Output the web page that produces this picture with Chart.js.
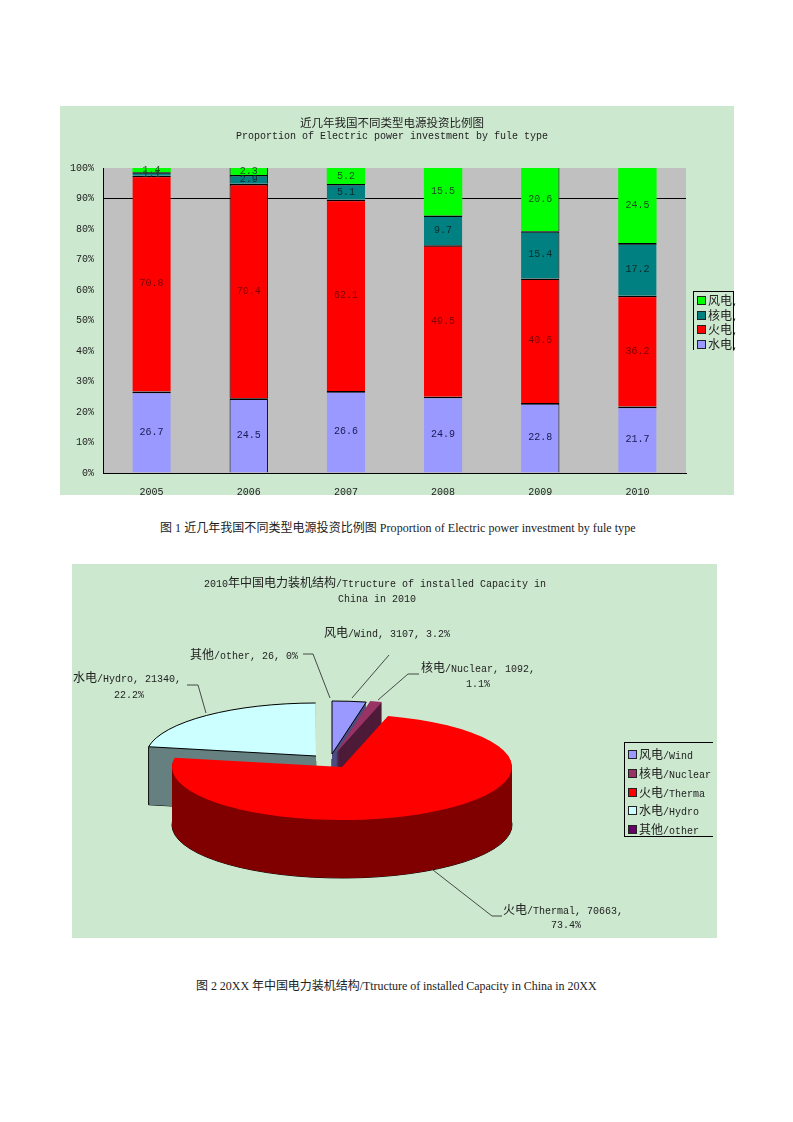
<!DOCTYPE html>
<html>
<head>
<meta charset="utf-8">
<title>电力投资与装机结构</title>
<script src="https://cdn.jsdelivr.net/npm/chart.js@4"></script>
<style>
html,body{margin:0;padding:0;background:#fff}
#page{position:relative;width:793px;height:1122px;overflow:hidden}
canvas{position:absolute;background:#CCE8CF}
.txt{position:absolute;white-space:nowrap;font:10px "Liberation Mono",monospace;color:#222;transform:translateY(-50%);line-height:14px}
.txt.mid{transform:translate(-50%,-50%)}
.txt .zh{font:12px "Noto Sans CJK SC",sans-serif}
.cap{position:absolute;white-space:nowrap;font:12px "Liberation Serif",serif;color:#222;transform:translateY(-50%);line-height:16px}
.cap .zh{font:12px "Noto Sans CJK SC",sans-serif}
.box{position:absolute;border:1px solid #000}
.swatch{position:absolute;width:7px;height:7px;border:1px solid #222}
</style>
</head>
<body>
<div id="page">
<canvas id="barChart" width="674" height="389" style="left:60px;top:106px"></canvas>
<canvas id="pieChart" width="645" height="374" style="left:72px;top:564px"></canvas>
</div>

<script>
/* BAR CHART DATA */

const years=["2005","2006","2007","2008","2009","2010"]
const hydro=[26.7,24.5,26.6,24.9,22.8,21.7]
const thermal=[70.8,70.4,62.1,49.5,40.6,36.2]
const nuclear=[1.1,2.9,5.1,9.7,15.4,17.2]
const wind=[1.4,2.3,5.2,15.5,20.6,24.5]
const percentTicks=[0,10,20,30,40,50,60,70,80,90,100]
const barNames=["水电","火电","核电","风电"]
const barColors=["#9999FF","#FF0000","#008080","#00FF00"]
const barLabelColors=["#1a1a50","#7a0000","#0b2b2b","#1d4d1d"]

/* PIE CHART DATA */

const sliceNames=["风电/Wind","核电/Nuclear","火电/Thermal","水电/Hydro","其他/other"]
const sliceValues=[3107,1092,70663,21340,26]
const slicePercents=["3.2","1.1","73.4","22.2","0"]
const legendNames=["风电/Wind","核电/Nuclear","火电/Therma","水电/Hydro","其他/other"]
const sliceColors=["#9999FF","#993366","#FF0000","#CCFFFF","#660066"]
const sliceSides=["#4d4d80","#4d1a38","#800000","#668080","#330033"]


/* TEXT HELPERS */

const page=document.getElementById("page")

function wrapZh(s){
return s.replace(/[\u4e00-\u9fff]+/g,m=>`<span class="zh">${m}</span>`)
}

function addText(s,x,y,mid,size){
let d=document.createElement("div")
d.className="txt"+(mid?" mid":"")
d.style.left=x+"px"
d.style.top=y+"px"
d.innerHTML=wrapZh(s)
if(size) d.querySelectorAll(".zh").forEach(z=>z.style.fontSize=size+"px")
page.appendChild(d)
}

function addCaption(s,x,y,spacing){
let d=document.createElement("div")
d.className="cap"
d.style.left=x+"px"
d.style.top=y+"px"
d.style.letterSpacing=spacing+"px"
d.innerHTML=wrapZh(s)
page.appendChild(d)
}

function addLegend(x,y,w,h,names,colors,rows,sides){
let b=document.createElement("div")
b.className="box"
b.style.cssText=`left:${x}px;top:${y}px;width:${w}px;height:${h}px;`+sides
page.appendChild(b)
names.forEach((n,i)=>{
let s=document.createElement("div")
s.className="swatch"
s.style.left=(x+4)+"px"
s.style.top=(rows[i]-4)+"px"
s.style.background=colors[i]
page.appendChild(s)
addText(n,x+15,rows[i])
})
}


/* BAR CHART */

const barRaw=[hydro,thermal,nuclear,wind]

/* the original is a 100% stacked column, so heights are shares of each year's total */
function shareOf(series){
return series.map((v,i)=>v/barRaw.reduce((a,s)=>a+s[i],0)*100)
}

const plotBackground={
id:"plotBackground",
beforeDraw(chart){
let a=chart.chartArea
chart.ctx.fillStyle="#C0C0C0"
chart.ctx.fillRect(a.left,a.top,a.width,a.height)
}
}

const barValues={
id:"barValues",
afterDatasetsDraw(chart){
let ctx=chart.ctx
ctx.save()
ctx.font='10px "Liberation Mono",monospace'
ctx.textAlign="center"
ctx.textBaseline="middle"
chart.data.datasets.forEach((ds,k)=>{
chart.getDatasetMeta(k).data.forEach((el,i)=>{
ctx.fillStyle=barLabelColors[k]
ctx.fillText(barRaw[k][i].toFixed(1),el.x,(el.y+el.base)/2)
})
})
ctx.restore()
}
}

new Chart(document.getElementById("barChart"),{
type:"bar",
data:{
labels:years,
datasets:barRaw.map((s,k)=>({
label:barNames[k],
data:shareOf(s),
backgroundColor:barColors[k],
borderColor:"#000",
borderSkipped:false,
borderWidth:c=>{
let top=k==3?0:1.6
if(c.dataIndex==1) return {top:top,left:1,right:1,bottom:0}
if(c.dataIndex==4) return {top:top,left:0,right:1,bottom:0}
return {top:top,left:0,right:0,bottom:0}
}
}))
},
options:{
responsive:false,
animation:false,
layout:{padding:{top:62,right:48,left:0,bottom:0}},
plugins:{legend:{display:false},title:{display:false},tooltip:{enabled:false}},
datasets:{bar:{barPercentage:0.395,categoryPercentage:1}},
scales:{
x:{
stacked:true,
afterFit(s){s.height=22},
grid:{display:false},
border:{color:"#000",width:1},
/* tick marks stay counted in the label offset although the grid is off, so the padding is small */
ticks:{color:"#222",padding:5,maxRotation:0,font:{family:"Liberation Mono",size:10}}
},
y:{
stacked:true,
min:0,
max:100,
afterFit(s){s.width=43},
afterBuildTicks(s){s.ticks=percentTicks.map(v=>({value:v}))},
grid:{color:c=>c.tick.value==90?"#000":"transparent",drawTicks:false},
border:{color:"#000",width:1},
ticks:{color:"#222",padding:9,callback:v=>v+"%",font:{family:"Liberation Mono",size:10}}
}
}
},
plugins:[plotBackground,barValues]
})

addText("近几年我国不同类型电源投资比例图",392,123,true,11.5)
addText("Proportion of Electric power investment by fule type",392,137,true)
addLegend(693,291,39,58,["风电,","核电,","火电,","水电,"],[barColors[3],barColors[2],barColors[1],barColors[0]],[300,315,329,344],"border-bottom:none")
addCaption("图 1 近几年我国不同类型电源投资比例图 Proportion of Electric power investment by fule type",160,527,0.04)


/* PIE CHART, squashed and extruded from the library's own arcs */

const squash=53/170
const depth=58
const pieCentreY=203
const sliceShift=[[-10,-13],[-6,-14],[0,0],[-26,-11],[0,0]]
const sliceOutline=[true,false,false,true,false]
const drawOrder=[4,3,0,1,2]

/* thin label lines in canvas pixels */
const leaders=[
[[231,90],[241,90],[258,134]],
[[317,91],[280,134]],
[[347,110],[336,110],[306,136]],
[[115,121],[126,121],[134,149]],
[[430,352],[420,352],[361,306]]
]

function slicePath(ctx,el,i,d,closed){
ctx.save()
ctx.translate(el.x+sliceShift[i][0],pieCentreY+sliceShift[i][1]+d)
ctx.scale(1,squash)
ctx.beginPath()
ctx.moveTo(0,0)
ctx.arc(0,0,el.outerRadius,el.startAngle,el.endAngle)
if(closed) ctx.closePath()
ctx.restore()
}

const pie3d={
id:"pie3d",
beforeDatasetsDraw(chart){
let ctx=chart.ctx
let arcs=chart.getDatasetMeta(0).data
ctx.save()
ctx.lineWidth=1
ctx.strokeStyle="#000"
drawOrder.forEach(i=>{
let el=arcs[i]
slicePath(ctx,el,i,depth,true)
ctx.stroke()
ctx.fillStyle=sliceSides[i]
for(let d=depth;d>0;d--){
slicePath(ctx,el,i,d,true)
ctx.fill()
}
if(i==3){
let px=el.x+sliceShift[i][0]+Math.cos(el.startAngle)*el.outerRadius
let py=pieCentreY+sliceShift[i][1]+Math.sin(el.startAngle)*el.outerRadius*squash
ctx.beginPath()
ctx.moveTo(px,py)
ctx.lineTo(px,py+depth)
ctx.stroke()
}
ctx.fillStyle=sliceColors[i]
slicePath(ctx,el,i,0,true)
ctx.fill()
if(sliceOutline[i]){
slicePath(ctx,el,i,0,i==0)
ctx.stroke()
}
})
ctx.restore()
return false
},
afterDraw(chart){
let ctx=chart.ctx
ctx.save()
ctx.strokeStyle="#222"
ctx.lineWidth=0.8
leaders.forEach(l=>{
ctx.beginPath()
l.forEach((p,i)=>i?ctx.lineTo(p[0],p[1]):ctx.moveTo(p[0],p[1]))
ctx.stroke()
})
ctx.restore()
}
}

new Chart(document.getElementById("pieChart"),{
type:"pie",
data:{
labels:sliceNames,
datasets:[{data:sliceValues,backgroundColor:sliceColors,borderWidth:0}]
},
options:{
responsive:false,
animation:false,
layout:{padding:{top:17,bottom:17,left:100,right:205}},
plugins:{legend:{display:false},title:{display:false},tooltip:{enabled:false}}
},
plugins:[pie3d]
})

addText("2010年中国电力装机结构/Ttructure of installed Capacity in",375,582,true)
addText("China in 2010",377,600,true)

addText(`${sliceNames[4]}, ${sliceValues[4]}, ${slicePercents[4]}%`,190,654)
addText(`${sliceNames[0]}, ${sliceValues[0]}, ${slicePercents[0]}%`,324,632)
addText(`${sliceNames[1]}, ${sliceValues[1]},`,421,667)
addText(slicePercents[1]+"%",478,685,true)
addText(`${sliceNames[3]}, ${sliceValues[3]},`,73,677)
addText(slicePercents[3]+"%",129,696,true)
addText(`${sliceNames[2]}, ${sliceValues[2]},`,503,909)
addText(slicePercents[2]+"%",566,926,true)

addLegend(624,742,88,93,legendNames,sliceColors,[754,773,792,810,829],"border-right:none")
addCaption("图 2 20XX 年中国电力装机结构/Ttructure of installed Capacity in China in 20XX",196,985,-0.04)
</script>
</body>
</html>
